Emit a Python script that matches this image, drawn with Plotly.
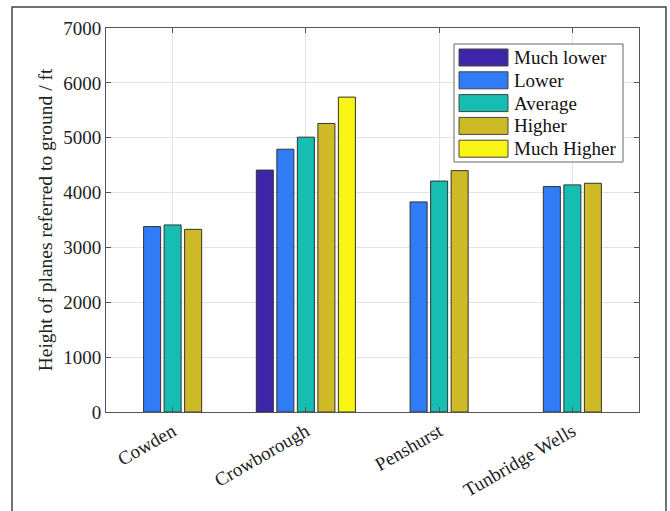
import plotly.graph_objects as go

categories = ["Cowden", "Crowborough", "Penshurst", "Tunbridge Wells"]
series_names = ["Much lower", "Lower", "Average", "Higher", "Much Higher"]
much_lower = [None, 4410, None, None]
lower = [3380, 4790, 3830, 4110]
average = [3410, 5010, 4210, 4140]
higher = [3330, 5260, 4400, 4170]
much_higher = [None, 5740, None, None]
y_ticks = [0, 1000, 2000, 3000, 4000, 5000, 6000, 7000]

colors = ["#3E26A8", "#2F7CF6", "#15BEB0", "#CDBA26", "#F8F514"]
values = [much_lower, lower, average, higher, much_higher]

FONT = "Liberation Serif"
TXT = "#222222"

# plot area in pixels (page coordinates)
L, R, T, B = 106, 639, 28, 412
W, H = 670, 511


def px(xp):
    return (xp - L) / (R - L)


def py(yp):
    return (B - yp) / (B - T)


fig = go.Figure()
for name, vals, col in zip(series_names, values, colors):
    fig.add_trace(go.Bar(
        x=categories, y=vals, name=name, showlegend=False,
        marker=dict(color=col, line=dict(color="#333333", width=1)),
    ))

fig.update_layout(
    width=W, height=H,
    barmode="group", bargap=0.23, bargroupgap=0.17,
    paper_bgcolor="white", plot_bgcolor="white",
    margin=dict(l=L, r=W - R, t=T, b=H - B, autoexpand=False),
    font=dict(family=FONT, size=19, color=TXT),
    xaxis=dict(
        range=[-0.5, 3.5], tickangle=-30,
        showgrid=True, gridcolor="#E3E3E3", gridwidth=1,
        showline=True, linecolor="#555555", linewidth=1, mirror="ticks",
        ticks="inside", ticklen=5, tickcolor="#555555",
        tickfont=dict(family=FONT, size=19, color=TXT),
    ),
    yaxis=dict(
        range=[0, 7000], tickvals=y_ticks,
        showgrid=True, gridcolor="#E3E3E3", gridwidth=1,
        showline=True, linecolor="#555555", linewidth=1, mirror="ticks",
        ticks="inside", ticklen=5, tickcolor="#555555",
        zeroline=False,
        tickfont=dict(family=FONT, size=19, color=TXT),
        title=dict(text="Height of planes referred to ground / ft",
                   font=dict(family=FONT, size=19.5, color=TXT), standoff=5),
    ),
)

# legend box (drawn like the MATLAB legend)
fig.add_shape(type="rect", xref="paper", yref="paper",
              x0=px(454), x1=px(623), y0=py(162), y1=py(44),
              line=dict(color="#666666", width=1), fillcolor="white", layer="above")
for i, (name, col) in enumerate(zip(series_names, colors)):
    top = 49 + i * 22.8
    fig.add_shape(type="rect", xref="paper", yref="paper",
                  x0=px(459), x1=px(508), y0=py(top + 17), y1=py(top),
                  line=dict(color="#444444", width=1), fillcolor=col, layer="above")
    fig.add_annotation(xref="paper", yref="paper", x=px(512), y=py(top + 8.5),
                       text=name, showarrow=False, xanchor="left", yanchor="middle",
                       font=dict(family=FONT, size=19, color="#111111"))

# outer frame of the figure panel
fig.add_shape(type="rect", xref="paper", yref="paper",
              x0=px(12), x1=px(666), y0=py(530), y1=py(7),
              line=dict(color="#444444", width=1.5), layer="below")

fig.write_html("out.html", config={"displayModeBar": False},
               post_script="document.body.style.margin='0';document.body.style.padding='0';")
